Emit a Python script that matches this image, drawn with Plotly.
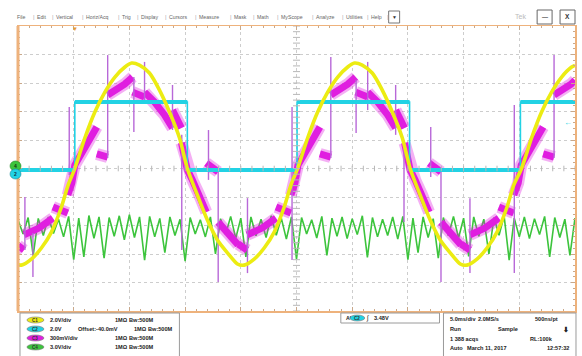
import numpy as np
import plotly.graph_objects as go

# ---------------- data: time in ms (5 ms/div), amplitude in screen divisions ----------------
yellow_t = [-25.0, -24.7, -23.8, -22.9, -22.0, -21.1, -20.5,
            -19.9, -19.0, -18.1, -17.2, -16.3, -15.4, -14.8, -14.1, -13.2, -12.3, -11.4, -10.5,
            -9.8, -8.9, -8.0, -7.1, -6.2, -5.3, -4.7, -3.8, -2.9, -2.0, -1.1, -0.5,
            0.1, 1.0, 1.9, 2.8, 3.7, 4.6, 5.2, 5.9, 6.8, 7.7, 8.6, 9.5,
            10.2, 11.1, 12.0, 12.9, 13.8, 14.7, 15.3, 16.2, 17.1, 18.0, 18.9, 19.5,
            20.2, 21.1, 22.0, 22.9, 23.8, 24.7, 25.0]
yellow_y = [-3.37, -3.39, -3.18, -2.79, -2.23, -1.35, -0.58,
            0.0, 1.07, 1.98, 2.68, 3.21, 3.56, 3.70, 3.63, 3.35, 2.75, 1.98, 1.07,
            0.0, -0.93, -1.81, -2.51, -2.96, -3.35, -3.39, -3.18, -2.79, -2.23, -1.35, -0.58,
            0.0, 1.07, 1.98, 2.68, 3.21, 3.56, 3.70, 3.63, 3.35, 2.75, 1.98, 1.07,
            0.0, -0.93, -1.81, -2.51, -2.96, -3.35, -3.39, -3.18, -2.79, -2.23, -1.35, -0.58,
            0.0, 1.07, 1.98, 2.68, 3.21, 3.56, 3.62]

cyan_t = [-25.0, -19.9, -9.8, 0.05, 10.15, 20.1, 25.0]
cyan_y = [-0.05, 2.33, -0.05, 2.33, -0.05, 2.33, 2.33]

mag_t = [-25.0, -24.46, None,
         -24.46, -23.12, -21.87, None,
         -21.87, -20.53, None,
         -20.53, -20.17, -19.90, -19.01, -17.93, None,
         -17.93, -16.95, None,
         -16.95, -16.14, -15.43, -14.71, None,
         -14.71, -13.64, None,
         -13.64, -12.74, -11.85, -11.13, None,
         -11.13, -10.33, None,
         -10.33, -9.80, -9.35, -8.73, -8.10, None,
         -8.10, -7.03, None,
         -7.03, -6.04, -5.24, None,
         -5.24, -4.43, None,
         -4.43, -3.09, -1.84, None,
         -1.84, -0.50, None,
         -0.50, -0.14, 0.13, 1.02, 2.10, None,
         2.10, 3.08, None,
         3.08, 3.89, 4.60, 5.32, None,
         5.32, 6.39, None,
         6.39, 7.29, 8.18, 8.90, None,
         8.90, 9.70, None,
         9.70, 10.20, 10.65, 11.27, 11.90, None,
         11.90, 12.97, None,
         12.97, 13.96, 14.76, None,
         14.76, 15.57, None,
         15.57, 16.91, 18.16, None,
         18.16, 19.50, None,
         19.50, 19.90, 20.17, 21.06, 22.14, None,
         22.14, 23.12, None,
         23.12, 23.93, 24.64, 25.0]
mag_y = [-2.70, -2.86, None,
         -2.33, -2.09, -1.74, None,
         -1.35, -1.56, None,
         -0.93, -0.51, 0.12, 0.72, 1.46, None,
         0.51, 0.40, None,
         2.58, 2.75, 2.96, 3.21, None,
         2.68, 2.51, None,
         2.68, 2.33, 1.88, 1.42, None,
         2.05, 1.42, None,
         0.90, -0.05, -0.40, -0.93, -1.53, None,
         0.19, -0.12, None,
         -1.88, -2.33, -2.68, None,
         -2.65, -2.86, None,
         -2.33, -2.09, -1.74, None,
         -1.35, -1.56, None,
         -0.93, -0.51, 0.12, 0.72, 1.46, None,
         0.51, 0.40, None,
         2.58, 2.75, 2.96, 3.21, None,
         2.68, 2.51, None,
         2.68, 2.33, 1.88, 1.42, None,
         2.05, 1.42, None,
         0.90, -0.05, -0.40, -0.93, -1.53, None,
         0.19, -0.12, None,
         -1.88, -2.33, -2.68, None,
         -2.65, -2.86, None,
         -2.33, -2.09, -1.74, None,
         -1.35, -1.56, None,
         -0.93, -0.51, 0.12, 0.72, 1.46, None,
         0.51, 0.40, None,
         2.58, 2.75, 2.96, 3.10]

spike_t = [-24.38, -23.66, -20.40, -16.95, -14.60, -13.64, -11.13, -10.30, -7.90, -7.03, -4.40,
           -0.40, 3.08, 5.35, 6.39, 8.90, 9.65, 12.05, 12.97, 15.57, 19.55, 23.12]
spike_top = [-1.00, -2.26, 2.16, 3.98, 3.21, 3.74, 2.93, 1.18, 1.35, -0.05, -1.04,
             2.16, 3.91, 3.11, 3.74, 2.93, 1.00, 1.46, -0.05, -1.04, 2.23, 3.98]
spike_bot = [-2.86, -3.81, -0.23, 0.37, 1.28, 2.40, 1.35, -2.86, -0.40, -3.98, -3.67,
             -3.21, 0.37, 1.25, 2.05, 1.18, -1.88, -0.30, -3.98, -3.67, -3.67, 0.37]

green_y = [-1.80, -2.30, -1.72, -3.05, -1.75, -2.35, -1.70, -2.28, -1.78, -2.40,
           -1.68, -3.20, -1.74, -3.10, -1.65, -2.45, -1.70, -3.15, -1.72, -2.38,
           -1.66, -2.50, -1.62, -2.42, -1.70, -3.22, -1.68, -2.40, -1.75, -2.95,
           -1.70, -2.35, -1.78, -3.25, -1.72, -2.30, -1.80, -2.40, -1.70, -3.00,
           -1.76, -2.32, -1.68, -2.45, -1.74, -3.10, -1.70, -2.36, -1.78, -2.42,
           -1.66, -2.34, -1.74, -2.48, -1.70, -3.18, -1.72, -2.30, -1.80, -2.44,
           -1.68, -3.05, -1.74, -2.38, -1.70, -2.46, -1.76, -2.32, -1.66, -3.12,
           -1.72, -2.40, -1.78, -2.35, -1.70, -2.48, -1.68, -3.20, -1.74, -2.95,
           -1.70, -2.42, -1.76, -3.15, -1.72, -2.36, -1.68, -2.44, -1.74, -3.08,
           -1.70, -2.38, -1.78, -3.00, -1.72, -2.34, -1.66, -3.22, -1.74, -2.40,
           -1.70, -2.46, -1.76, -2.32, -1.68, -3.10, -1.72, -2.42, -1.78, -3.05,
           -1.74]
green_span = (-25.0, 25.0)

menu_items = ["File", "Edit", "Vertical", "Horiz/Acq", "Trig", "Display", "Cursors", "Measure",
              "Mask", "Math", "MyScope", "Analyze", "Utilities", "Help"]
ch_names = ["C1", "C2", "C3", "C4"]
ch_scale = ["2.0V/div", "2.0V", "300mV/div", "3.0V/div"]
ch2_offset = "Offset:-40.0mV"
ch_coupling = "1MΩ"
ch_bw = "Bw:500M"
trig_level = "3.48V"
acq_rows = [["5.0ms/div", "2.0MS/s", "500ns/pt"],
            ["Run", "Sample", "⬇"],
            ["1 388 acqs", "", "RL:100k"],
            ["Auto", "March 11, 2017", "12:57:32"]]

# ---------------- colours ----------------
C_YEL, C_CYA, C_MAG, C_GRN = "#ecec12", "#22d2e4", "#e01ee0", "#3cc43c"
C_SPK = "#b868d8"
C_ORG = "#eeb27c"

# ---------------- geometry (pixels) ----------------
W, H = 582, 356
PL, PR, PT, PB = 18, 577, 26, 311


def px(x):
    return (x - PL) / (PR - PL)


def py(y):
    return (PB - y) / (PB - PT)


fig = go.Figure()

green_t = np.linspace(green_span[0], green_span[1], len(green_y))
fig.add_trace(go.Scatter(x=green_t, y=green_y, mode="lines",
                         line=dict(color=C_GRN, width=1.6), hoverinfo="skip"))

# magenta: faint noise halo + solid band
fig.add_trace(go.Scatter(x=mag_t, y=mag_y, mode="lines", connectgaps=False, opacity=0.35,
                         line=dict(color=C_MAG, width=12), hoverinfo="skip"))
fig.add_trace(go.Scatter(x=mag_t, y=mag_y, mode="lines", connectgaps=False,
                         line=dict(color=C_MAG, width=7), hoverinfo="skip"))

sx, sy = [], []
for t, a, b in zip(spike_t, spike_top, spike_bot):
    sx += [t, t, None]
    sy += [a, b, None]
fig.add_trace(go.Scatter(x=sx, y=sy, mode="lines", line=dict(color=C_SPK, width=1.4),
                         hoverinfo="skip"))

# cyan: thin edges + thick noisy levels
fig.add_trace(go.Scatter(x=cyan_t, y=cyan_y, mode="lines", line_shape="hv",
                         line=dict(color=C_CYA, width=1.6), hoverinfo="skip"))
hx, hy = [], []
for i in range(len(cyan_t) - 1):
    hx += [cyan_t[i], cyan_t[i + 1], None]
    hy += [cyan_y[i], cyan_y[i], None]
fig.add_trace(go.Scatter(x=hx, y=hy, mode="lines",
                         line=dict(color=C_CYA, width=4), hoverinfo="skip"))

fig.add_trace(go.Scatter(x=yellow_t, y=yellow_y, mode="lines", line_shape="spline",
                         line=dict(color=C_YEL, width=3.6, smoothing=0.8), hoverinfo="skip"))

# centre cross tick marks
cx = np.arange(-25, 25.01, 1.0)
cy = np.arange(-5, 5.01, 0.2)
fig.add_trace(go.Scatter(x=cx, y=np.zeros_like(cx), mode="markers",
                         marker=dict(symbol="line-ns", size=4, line=dict(color="#b8b8b8", width=1)),
                         hoverinfo="skip"))
fig.add_trace(go.Scatter(x=np.zeros_like(cy), y=cy, mode="markers",
                         marker=dict(symbol="line-ew", size=5, line=dict(color="#b8b8b8", width=1)),
                         hoverinfo="skip"))

axis_common = dict(showgrid=True, gridcolor="#cdcdcd", griddash="dot", gridwidth=1,
                   zeroline=False, showticklabels=False, ticks="inside", ticklen=4,
                   tickcolor="#c9a88a", showline=True, linecolor=C_ORG, linewidth=1.5,
                   mirror="allticks", fixedrange=True)
fig.update_xaxes(range=[-25, 25], tick0=0, dtick=5,
                 minor=dict(dtick=1, ticks="inside", ticklen=2, tickcolor="#c9a88a", showgrid=False),
                 **axis_common)
fig.update_yaxes(range=[-5, 5], tick0=0, dtick=1,
                 minor=dict(dtick=0.2, ticks="inside", ticklen=2, tickcolor="#c9a88a", showgrid=False),
                 **axis_common)

shapes, anns = [], []


def rect(x0, y0, x1, y1, line="#9a9a9a", fill="rgba(0,0,0,0)", lw=1):
    shapes.append(dict(type="rect", xref="paper", yref="paper", x0=px(x0), x1=px(x1),
                       y0=py(y1), y1=py(y0), line=dict(color=line, width=lw), fillcolor=fill,
                       layer="above"))


def oval(x0, y0, x1, y1, fill, line="#777777"):
    shapes.append(dict(type="circle", xref="paper", yref="paper", x0=px(x0), x1=px(x1),
                       y0=py(y1), y1=py(y0), line=dict(color=line, width=0.6), fillcolor=fill,
                       layer="above"))


def txt(s, x, y, size=5.6, color="#222222", anchor="left", bold=True):
    anns.append(dict(text=(f"<b>{s}</b>" if bold else s), x=px(x), y=py(y), xref="paper",
                     yref="paper", xanchor=anchor, yanchor="middle", showarrow=False,
                     font=dict(size=size, color=color, family="Arial")))


# left thick orange ruler
shapes.append(dict(type="line", xref="paper", yref="paper", x0=0, x1=0, y0=0, y1=1,
                   line=dict(color=C_ORG, width=3), layer="above"))

# menu bar
menu_x = [15, 35, 54, 84, 120, 139, 168, 198, 233, 256, 280, 315, 345, 370]
for i, (m, x) in enumerate(zip(menu_items, menu_x)):
    txt(m, x, 17, size=5.2, color="#666666", bold=False)
    sep = (menu_x[i + 1] - 4) if i + 1 < len(menu_x) else 386
    txt("|", sep, 17, size=6, color="#aaaaaa", bold=False)
rect(390, 11, 401, 23, line="#777777")
txt("▼", 395.5, 17, size=5, color="#333333", anchor="center", bold=False)
txt("Tek", 515, 17, size=7, color="#bbbbbb", bold=False)
rect(539, 10, 554, 24, line="#666666")
txt("—", 546.5, 17, size=6, color="#333333", anchor="center")
rect(562, 10, 577, 24, line="#666666")
txt("X", 569.5, 17, size=6.5, color="#333333", anchor="center")

# trigger position marker (top) and trigger level arrow (right)
txt("▼", 75, 29, size=6, color="#e8982e", anchor="center", bold=False)
txt("←", 570, 123, size=8, color=C_CYA, anchor="center")

# channel ground markers on the left edge
oval(10, 161, 21, 171, C_GRN, line="#2a8a2a")
txt("4", 15.5, 166, size=5, color="#113311", anchor="center")
oval(10, 169, 21, 179, C_CYA, line="#1a8a99")
txt("2", 15.5, 174, size=5, color="#113344", anchor="center")

# channel legend box
rect(20, 313, 180, 357)
badge_cols = [C_YEL, C_CYA, C_MAG, C_GRN]
row_y = [320, 329, 338, 347]
for i in range(4):
    oval(27, row_y[i] - 3, 44, row_y[i] + 3, badge_cols[i])
    txt(ch_names[i], 35.5, row_y[i], size=4.5, color="#333333", anchor="center")
    txt(ch_scale[i], 48, row_y[i])
    if i == 1:
        txt(ch2_offset, 76, row_y[i])
        txt(ch_coupling, 132, row_y[i])
        txt(ch_bw, 146, row_y[i])
    else:
        txt(ch_coupling, 113, row_y[i])
        txt(ch_bw, 127, row_y[i])

# trigger box
rect(342, 313, 441, 323)
txt("A'", 345, 318, size=5.2)
oval(351, 315, 366, 321, C_CYA)
txt("C2", 358.5, 318, size=4.5, color="#333333", anchor="center")
txt("∫", 369, 318, size=6.5, color="#222222", anchor="center", bold=False)
txt(trig_level, 373, 318)

# acquisition box
rect(445, 313, 578, 357)
acq_x = [[450, 478, 535], [450, 498, 563], [450, 0, 530], [450, 467, 547]]
acq_y = [319, 329, 339, 348]
for r, row in enumerate(acq_rows):
    for c, s in enumerate(row):
        if s:
            txt(s, acq_x[r][c], acq_y[r], size=(7 if s == "⬇" else 5.6))

fig.update_layout(width=W, height=H, margin=dict(l=PL, r=W - PR, t=PT, b=H - PB),
                  paper_bgcolor="white", plot_bgcolor="white", showlegend=False,
                  shapes=shapes, annotations=anns, font=dict(family="Arial"))

fig.write_html("out.html", config={"displayModeBar": False, "staticPlot": True},
               post_script="document.body.style.margin='0';document.body.style.padding='0';")
